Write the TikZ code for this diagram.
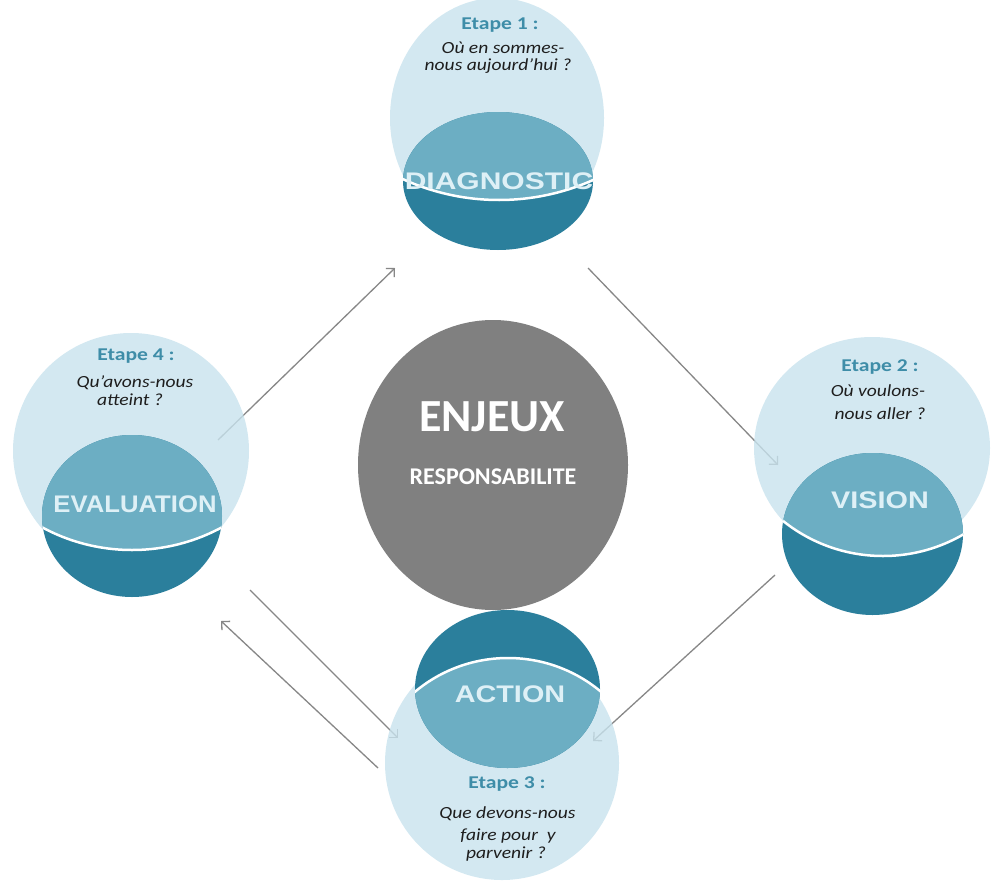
\documentclass[tikz,border=0pt]{standalone}
\usepackage{fontspec}
\usepackage{graphicx}
\setmainfont{Carlito}
\newfontfamily\labfont{Liberation Sans}
\usetikzlibrary{arrows.meta}
\definecolor{lightc}{RGB}{200,227,238}
\definecolor{midc}{RGB}{108,174,195}
\definecolor{darkc}{RGB}{43,127,156}
\definecolor{labc}{RGB}{222,240,246}
\definecolor{etapec}{RGB}{62,141,168}
\definecolor{qc}{RGB}{30,30,30}
\definecolor{grayc}{RGB}{128,128,128}
\definecolor{arrc}{RGB}{135,135,135}
\newcommand\hs[2]{\scalebox{#1}[1]{#2}}
% #1 light centre, #2/#3 light radii, #4 dark centre, #5/#6 dark radii,
% #7 arc centre, #8 arc radius, #9 label node
\newcommand\stepgroup[9]{%
  \fill[lightc, fill opacity=0.8] #1 ellipse [x radius=#2, y radius=#3];
  \fill[darkc] #4 ellipse [x radius=#5, y radius=#6];
  \begin{scope}
    \clip #4 ellipse [x radius=#5, y radius=#6];
    \fill[midc] #7 circle [radius=#8];
    \draw[white, line width=2.5pt] #7 circle [radius=#8];
    #9
  \end{scope}
}
\tikzset{
  etape/.style={font=\fontsize{18}{18}\selectfont\bfseries, text=etapec, anchor=base, inner sep=0pt},
  quest/.style={font=\fontsize{17}{17}\selectfont\itshape, text=qc, anchor=base, inner sep=0pt},
  lbl/.style={font=\labfont\bfseries\fontsize{24}{24}\selectfont, text=labc, anchor=base, inner sep=0pt},
  arr/.style={draw=arrc, line width=1.3pt, -{Straight Barb[length=6pt,width=12pt]}},
}
\begin{document}
\begin{tikzpicture}[x=1pt,y=-1pt]
\useasboundingbox (0,0) rectangle (995,886);
\fill[white] (0,0) rectangle (995,886);

% connectors (drawn beneath the translucent circles)
\coordinate (evalOut) at (218,440);
\coordinate (diagIn) at (395,268);
\coordinate (diagOut) at (588,268);
\coordinate (visIn) at (778,465);
\coordinate (visOut) at (775,575);
\coordinate (actIn) at (593,741);
\coordinate (evalOut2) at (250,590);
\coordinate (actIn2) at (398,738);
\coordinate (actOut) at (378,768);
\coordinate (evalIn) at (221,621);
\draw[arr] (evalOut) -- (diagIn);
\draw[arr] (diagOut) -- (visIn);
\draw[arr] (visOut) -- (actIn);
\draw[arr] (evalOut2) -- (actIn2);
\draw[arr] (actOut) -- (evalIn);

% centre
\fill[grayc] (493,465) ellipse [x radius=135, y radius=145];
\node[anchor=base, inner sep=0pt, text=white, font=\fontsize{46}{46}\selectfont\bfseries] (enjeux) at (492,431) {ENJEUX};
\node[anchor=base, inner sep=0pt, text=white, font=\fontsize{24}{24}\selectfont\bfseries] (resp) at (493,484) {RESPONSABILITE};

% Diagnostic
\stepgroup{(497,118)}{107}{120}{(498,181)}{95}{69}{(499,-31)}{231}
  {\node[lbl] (diagL) at (499,189) {\hs{1.25}{DIAGNOSTIC}};}
\node[etape] (e1) at (500,29) {\hs{1.2}{Etape 1 :}};
\node[quest] (q1a) at (503,53) {\hs{1.15}{Où en sommes-}};
\node[quest] (q1b) at (498,70) {\hs{1.15}{nous aujourd’hui ?}};

% Vision
\stepgroup{(872,448)}{118}{111}{(872.5,534)}{90.5}{81}{(883,396)}{160}
  {\node[lbl] (visL) at (880,508) {\hs{1.2}{VISION}};}
\node[etape] (e2) at (880,371) {\hs{1.2}{Etape 2 :}};
\node[quest] (q2a) at (878,396) {\hs{1.15}{Où voulons-}};
\node[quest] (q2b) at (880,419) {\hs{1.15}{nous aller ?}};

% Evaluation
\stepgroup{(131,451)}{118}{118}{(132,516)}{90}{81}{(132,361)}{189}
  {\node[lbl] (evalL) at (135,512) {\hs{1.07}{EVALUATION}};}
\node[etape] (e4) at (136,360) {\hs{1.2}{Etape 4 :}};
\node[quest] (q4a) at (135,387) {\hs{1.15}{Qu’avons-nous}};
\node[quest] (q4b) at (130,405) {\hs{1.15}{atteint ?}};

% Action
\stepgroup{(502,763)}{117}{117}{(507.5,689)}{92.5}{79}{(508,803)}{145}
  {\node[lbl] (actL) at (510,702) {\hs{1.2}{ACTION}};}
\node[etape] (e3) at (507,788) {\hs{1.2}{Etape 3 :}};
\node[quest] (q3a) at (507.5,818) {\hs{1.15}{Que devons-nous}};
\node[quest] (q3b) at (508,840) {\hs{1.15}{faire pour\ \ y}};
\node[quest] (q3c) at (506,858) {\hs{1.15}{parvenir ?}};
\end{tikzpicture}
\end{document}
